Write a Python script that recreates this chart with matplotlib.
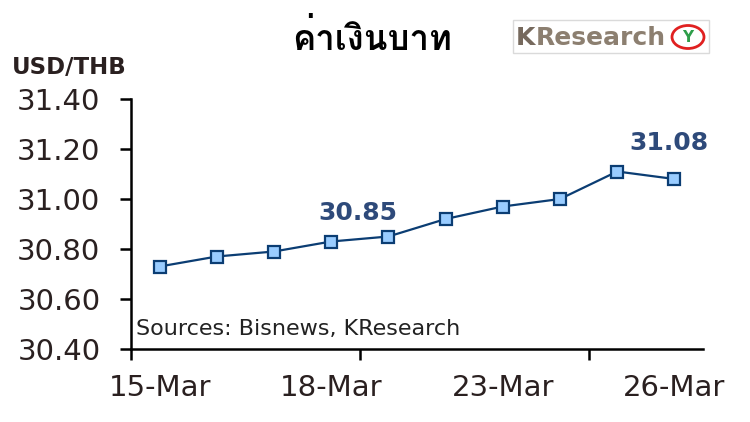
import matplotlib
matplotlib.use("Agg")
import matplotlib.pyplot as plt
from matplotlib import font_manager
from matplotlib.ft2font import FT2Font
from matplotlib.patches import Rectangle, Ellipse

dates = ["15-Mar", "16-Mar", "17-Mar", "18-Mar", "19-Mar",
         "22-Mar", "23-Mar", "24-Mar", "25-Mar", "26-Mar"]
usd_thb = [30.73, 30.77, 30.79, 30.83, 30.85, 30.92, 30.97, 31.00, 31.11, 31.08]
label_idx = [4, 9]
y_ticks = [30.40, 30.60, 30.80, 31.00, 31.20, 31.40]
x_label_idx = [0, 3, 6, 9]

# find a font with Thai glyphs
thai_font = None
for f in font_manager.fontManager.ttflist:
    try:
        ft = FT2Font(f.fname)
        cm = ft.get_charmap()
        if 0x0E04 in cm and 0x0E32 in cm:
            thai_font = f.name
            break
    except Exception:
        pass
title_family = [thai_font, "DejaVu Sans"] if thai_font else ["DejaVu Sans"]

plt.rcParams['font.family'] = ['DejaVu Sans']

fig = plt.figure(figsize=(7.5, 4.22), dpi=100)
ax = fig.add_axes([131/750, 1-349/422, (703-131)/750, (349-99)/422])

x = list(range(len(dates)))
ax.plot(x, usd_thb, color="#0B3D73", lw=1.6, marker="s", ms=9,
        mfc="#99CCFF", mec="#0B3D73", mew=1.6, zorder=3)

ax.set_xlim(-0.5, len(dates) - 0.5)
ax.set_ylim(y_ticks[0], y_ticks[-1])
ax.set_yticks(y_ticks)
ax.set_yticklabels([f"{v:.2f}" for v in y_ticks])
ax.set_xticks(x_label_idx)
ax.set_xticklabels([dates[i] for i in x_label_idx])
ax.set_xticks([-0.5, 3.5, 7.5], minor=True)

for s in ["top", "right"]:
    ax.spines[s].set_visible(False)
for s in ["left", "bottom"]:
    ax.spines[s].set_linewidth(1.8)
    ax.spines[s].set_color("#000000")

ax.tick_params(axis="y", direction="out", length=8, width=1.8, pad=14,
               labelsize=21, labelcolor="#2a2020")
ax.tick_params(axis="x", which="major", length=0, pad=18,
               labelsize=21, labelcolor="#2a2020")
ax.tick_params(axis="x", which="minor", direction="out", length=8, width=1.8)

offsets = {4: (-22, 17), 9: (-4, 26)}
for i in label_idx:
    ax.annotate(f"{usd_thb[i]:.2f}", (x[i], usd_thb[i]),
                xytext=offsets[i], textcoords="offset points",
                ha="center", va="center", fontsize=18, color="#2E4A7A",
                fontweight="bold")

fig.text(136/750, 1-329/422, "Sources: Bisnews, KResearch",
         fontsize=16, color="#222222", ha="left", va="center")

fig.text(12/750, 1-68/422, "USD/THB", fontsize=16.5, fontweight="bold",
         color="#2a2020", ha="left", va="center")
fig.text(372/750, 1-38/422, "ค่าเงินบาท", fontsize=25, fontweight="bold",
         color="#000000", ha="center", va="center", family=title_family)

# KResearch logo
fig.patches.append(Rectangle((513/750, 1-53/422), 196/750, 33/422,
                             transform=fig.transFigure, fill=False,
                             edgecolor="#DADADA", lw=1))
k_txt = fig.text(516/750, 1-38/422, "K", fontsize=18, fontweight="bold",
                 color="#76695D", ha="left", va="center")
fig.canvas.draw()
fig.text(0, 0, "")  # placeholder no-op
k_bb = k_txt.get_window_extent()
fig.text((k_bb.x1 + 0.5) / 750, 1-38/422, "Research", fontsize=18,
         fontweight="bold", color="#8C7F70", ha="left", va="center")
fig.text(688/750, 1-37/422, "Y", fontsize=11, fontweight="bold",
         color="#2E9E4A", ha="center", va="center")
fig.patches.append(Ellipse((688/750, 1-37/422), 32/750, 23/422,
                           transform=fig.transFigure, fill=False,
                           edgecolor="#E02020", lw=2))

fig.savefig("out.png", dpi=100)
